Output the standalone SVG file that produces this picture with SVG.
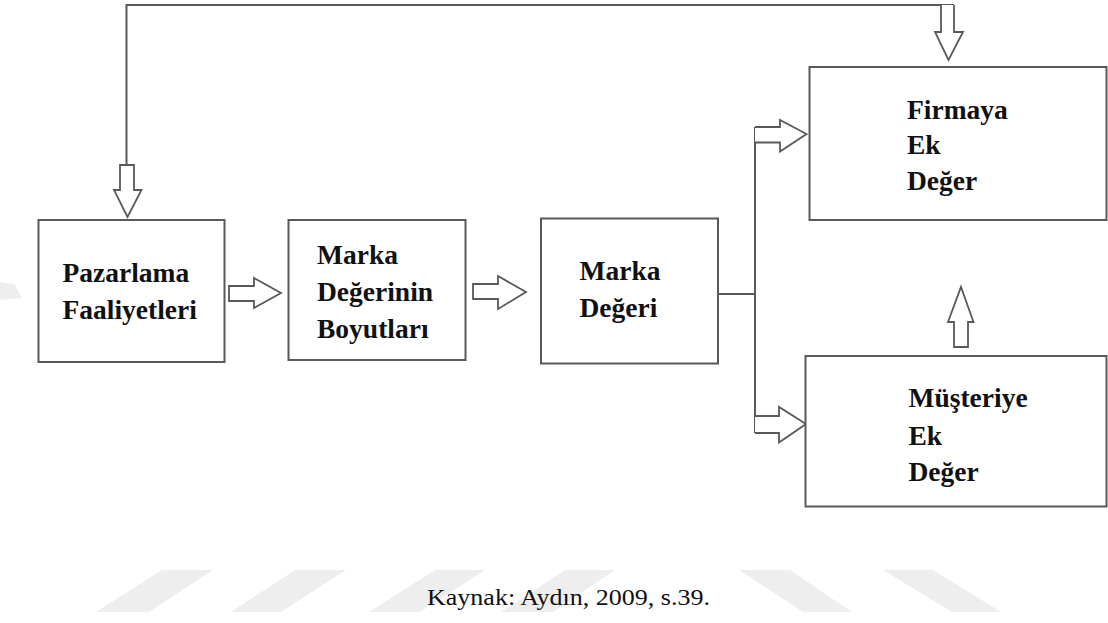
<svg xmlns="http://www.w3.org/2000/svg" width="1108" height="623" viewBox="0 0 1108 623">
  <style>
    .box { fill: #ffffff; stroke: #595959; stroke-width: 2; }
    .line { fill: none; stroke: #595959; stroke-width: 2; }
    .arrow { fill: #ffffff; stroke: #595959; stroke-width: 1.8; stroke-linejoin: miter; }
    .lbl { font-weight: bold; font-size: 27.5px; fill: #111111; }
    .cap { font-size: 24px; fill: #111111; }
    .mark { fill: #eeeeee; }
  </style>

  <rect width="1108" height="623" fill="#ffffff"/>

  <!-- faint background stripes -->
  <g id="watermark">
    <polygon class="mark" points="96,612 149,612 213,570 162,570"/>
    <polygon class="mark" points="231,612 281,612 346,570 295,570"/>
    <polygon class="mark" points="369,612 420,612 485,570 435,570"/>
    <polygon class="mark" points="501,612 553,612 615,570 565,570"/>
    <polygon class="mark" points="803,612 852,612 790,570 739,570"/>
    <polygon class="mark" points="952,612 1001,612 933,570 883,570"/>
    <polygon class="mark" points="0,282 14,284 22,298 0,300"/>
  </g>

  <!-- connectors -->
  <g id="connectors">
    <!-- feedback loop over the top -->
    <path class="line" d="M126.5,165 V5 H954"/>
    <path class="arrow" d="M120,165 H134 V190 H141.5 L127.5,217 L114,190 H120 Z"/>
    <path class="arrow" d="M941,5 V32 H935 L948.5,60 L963,32 H954 V5"/>
    <!-- chain arrows -->
    <path class="arrow" d="M229,286 H254 V278 L281,293 L254,308 V301 H229 Z"/>
    <path class="arrow" d="M473,284 H498 V276 L526,292 L498,309 V299 H473 Z"/>
    <!-- split from Marka Değeri -->
    <path class="line" d="M718,294 H755"/>
    <path class="line" d="M755,127 V433"/>
    <path class="arrow" d="M755,127 H780 V120 L806.5,134 L780,151.5 V142.5 H755"/>
    <path class="arrow" d="M755,416 H779 V407 L806,424 L779,442.5 V433 H755"/>
    <!-- upward arrow between the two value boxes -->
    <path class="arrow" d="M954,347 V322 H948 L961,287 L973.5,322 H968 V347 Z"/>
  </g>

  <g font-family="'Liberation Serif', 'Times New Roman', 'DejaVu Serif', serif">
    <g id="pazarlama">
      <rect class="box" x="38.5" y="220" width="186" height="142"/>
      <text class="lbl" x="62.5" y="281.5">Pazarlama</text>
      <text class="lbl" x="62.5" y="318.5">Faaliyetleri</text>
    </g>

    <g id="boyutlar">
      <rect class="box" x="288.5" y="220" width="177" height="140"/>
      <text class="lbl" x="317" y="264">Marka</text>
      <text class="lbl" x="317" y="301">Değerinin</text>
      <text class="lbl" x="317" y="338">Boyutları</text>
    </g>

    <g id="marka-degeri">
      <rect class="box" x="541" y="218.5" width="177" height="145"/>
      <text class="lbl" x="579.5" y="280">Marka</text>
      <text class="lbl" x="579.5" y="317">Değeri</text>
    </g>

    <g id="firmaya">
      <rect class="box" x="809.5" y="67" width="297" height="153"/>
      <text class="lbl" x="907" y="118.5">Firmaya</text>
      <text class="lbl" x="907" y="153.5">Ek</text>
      <text class="lbl" x="907" y="190">Değer</text>
    </g>

    <g id="musteriye">
      <rect class="box" x="805.5" y="356" width="301" height="150.5"/>
      <text class="lbl" x="908.5" y="407">Müşteriye</text>
      <text class="lbl" x="908.5" y="445">Ek</text>
      <text class="lbl" x="908.5" y="481">Değer</text>
    </g>

    <text class="cap" x="427" y="605" textLength="283" lengthAdjust="spacingAndGlyphs">Kaynak: Aydın, 2009, s.39.</text>
  </g>
</svg>
